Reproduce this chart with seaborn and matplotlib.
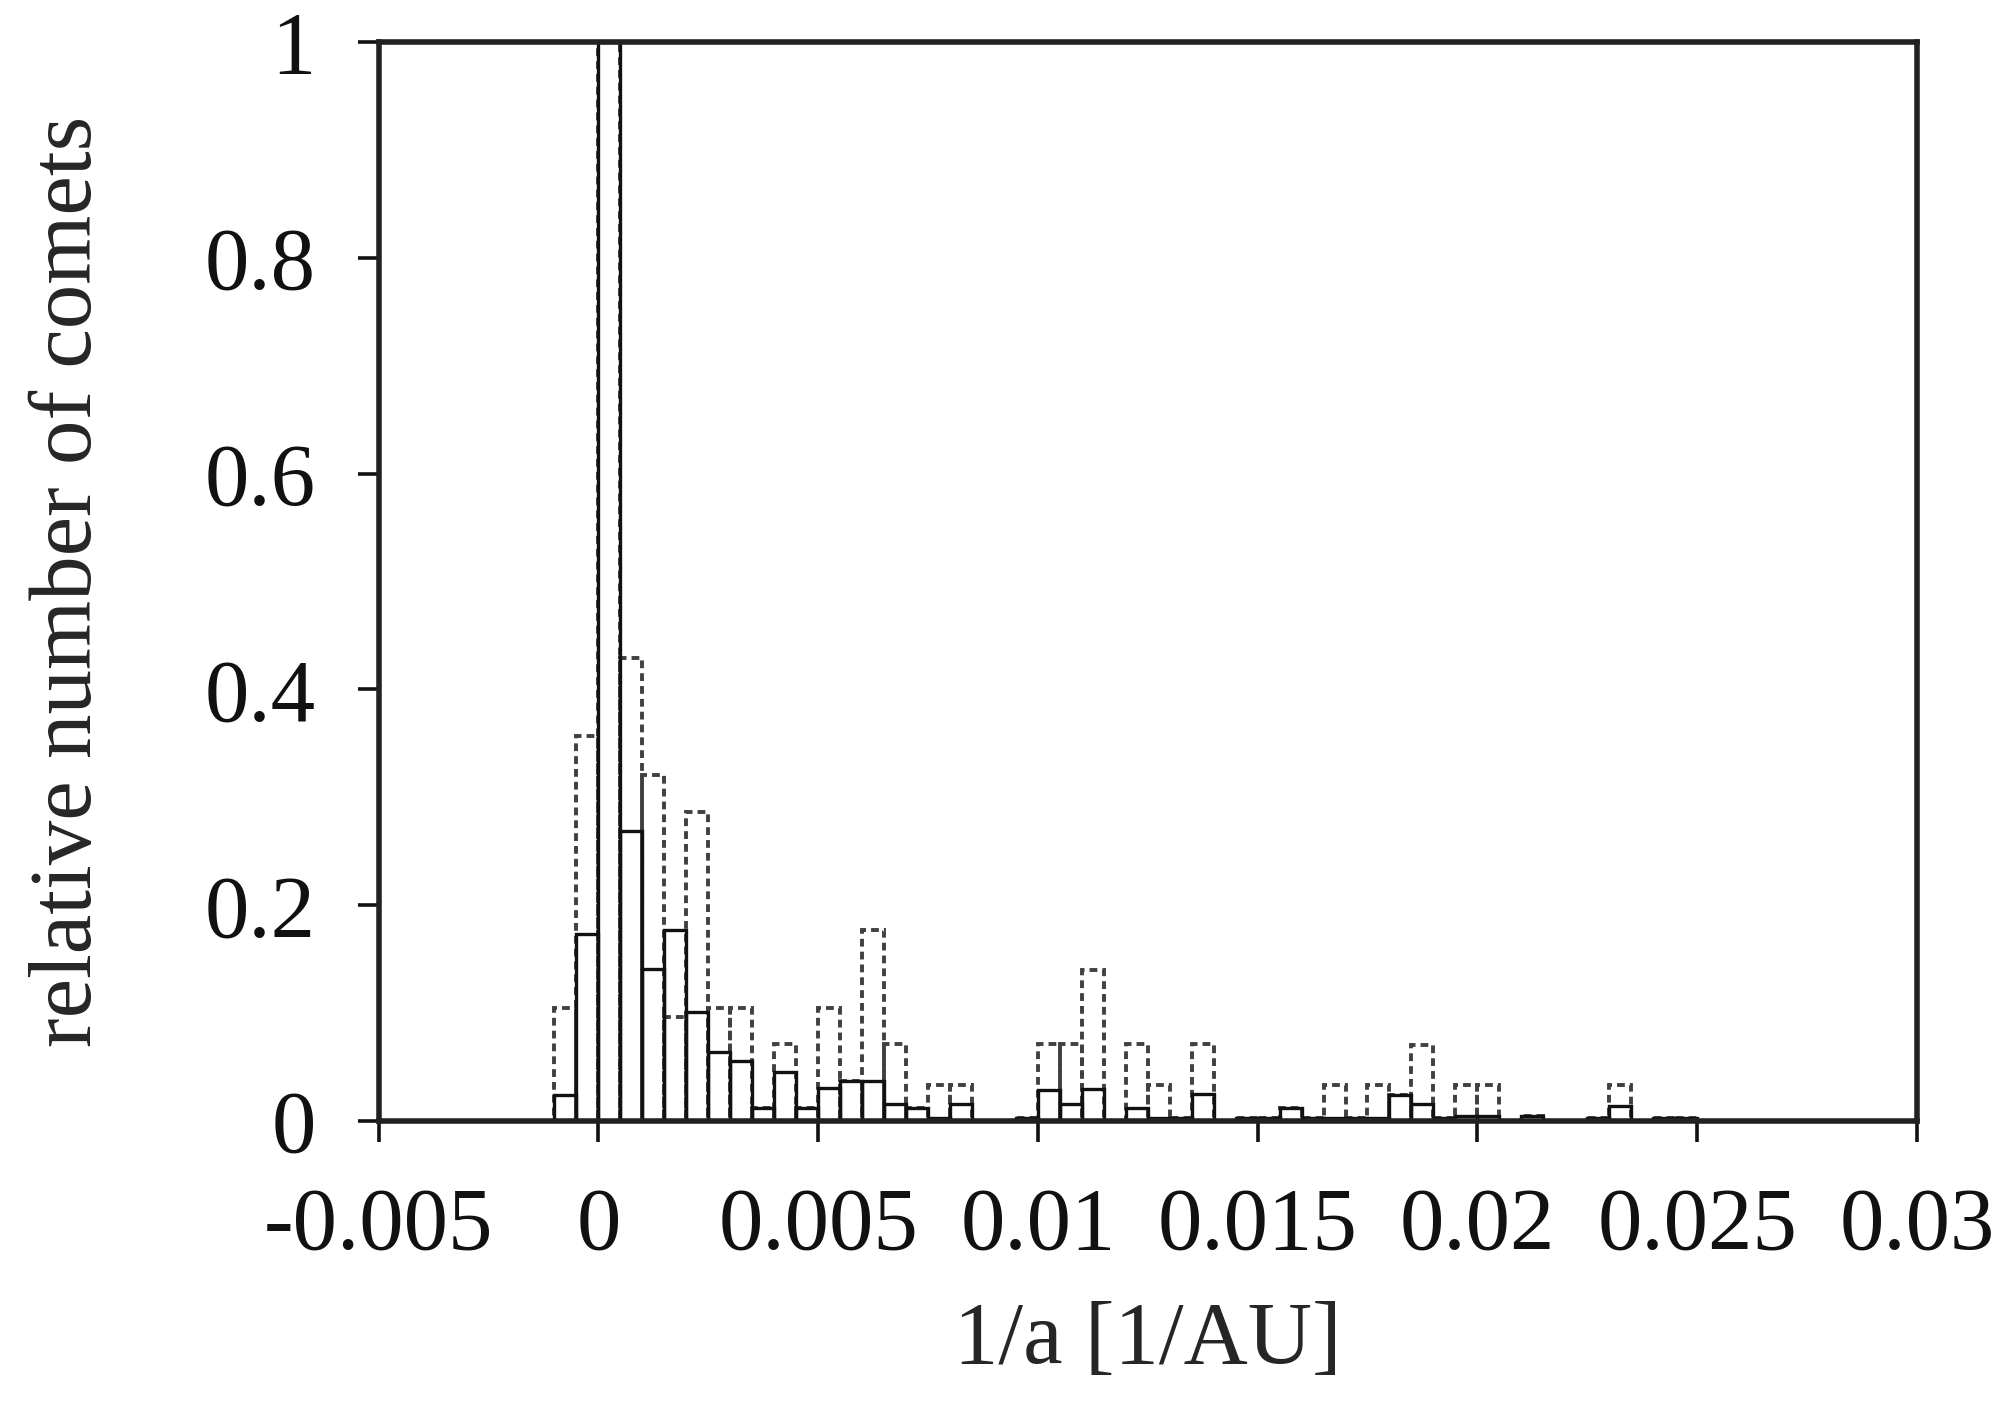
import numpy as np
import pandas as pd
import matplotlib
matplotlib.use("Agg")
import matplotlib.pyplot as plt
import seaborn as sns

# bin left edges in 1/a [1/AU], width 0.0005
bin_width = 0.0005
bin_left = np.round(np.arange(-0.001, 0.025, bin_width), 4)

# relative number of comets, solid histogram
solid_vals = [0.024, 0.173, 1.0, 0.269, 0.141, 0.177, 0.101, 0.064, 0.056, 0.012,
              0.045, 0.012, 0.031, 0.037, 0.037, 0.016, 0.012, 0.003, 0.016, 0.0,
              0.0, 0.003, 0.029, 0.016, 0.030, 0.0, 0.012, 0.003, 0.003, 0.025,
              0.0, 0.003, 0.003, 0.012, 0.003, 0.003, 0.003, 0.003, 0.024, 0.016,
              0.003, 0.005, 0.005, 0.0, 0.005, 0.0, 0.0, 0.003, 0.014, 0.0,
              0.003, 0.003]
# relative number of comets, dashed histogram
dashed_vals = [0.105, 0.357, 1.0, 0.429, 0.321, 0.096, 0.286, 0.105, 0.105, 0.012,
               0.071, 0.012, 0.105, 0.037, 0.177, 0.071, 0.012, 0.033, 0.033, 0.0,
               0.0, 0.003, 0.071, 0.071, 0.140, 0.0, 0.071, 0.033, 0.003, 0.071,
               0.0, 0.003, 0.003, 0.012, 0.003, 0.033, 0.003, 0.033, 0.024, 0.070,
               0.003, 0.033, 0.033, 0.0, 0.005, 0.0, 0.0, 0.003, 0.033, 0.0,
               0.003, 0.003]

xticks = [-0.005, 0, 0.005, 0.01, 0.015, 0.02, 0.025, 0.03]
xtick_labels = ["-0.005", "0", "0.005", "0.01", "0.015", "0.02", "0.025", "0.03"]
yticks = [0, 0.2, 0.4, 0.6, 0.8, 1]
ytick_labels = ["0", "0.2", "0.4", "0.6", "0.8", "1"]

df = pd.DataFrame({
    "center": bin_left + bin_width / 2,
    "solid": solid_vals,
    "dashed": dashed_vals,
})
edges = [float(e) for e in np.append(bin_left, bin_left[-1] + bin_width)]

sns.set_style("ticks")
plt.rcParams["font.family"] = ["Liberation Serif", "DejaVu Serif"]

fig = plt.figure(figsize=(10.015, 7.02), dpi=200)
ax = fig.add_axes([0.189, 0.2016, 0.768, 0.7685])

sns.histplot(data=df, x="center", weights="dashed", bins=edges, element="bars",
             fill=False, color="#404040", linewidth=1.4, linestyle=(0, (2.0, 1.3)), ax=ax)
sns.histplot(data=df, x="center", weights="solid", bins=edges, element="bars",
             fill=False, color="#111111", linewidth=1.2, ax=ax)

ax.set_xlim(-0.005, 0.03)
ax.set_ylim(0, 1)
ax.set_xticks(xticks)
ax.set_xticklabels(xtick_labels)
ax.set_yticks(yticks)
ax.set_yticklabels(ytick_labels)
ax.minorticks_off()
ax.tick_params(direction="out", length=7.5, width=1.3, labelsize=32, colors="#111111")
ax.tick_params(axis="x", pad=16)
ax.tick_params(axis="y", pad=15)
for sp in ax.spines.values():
    sp.set_visible(True)
    sp.set_linewidth(2.0)
    sp.set_color("#222222")

ax.set_xlabel("1/a [1/AU]", fontsize=32, labelpad=12)
ax.set_ylabel("relative number of comets", fontsize=32, labelpad=34)

fig.savefig("out.png", dpi=200)
